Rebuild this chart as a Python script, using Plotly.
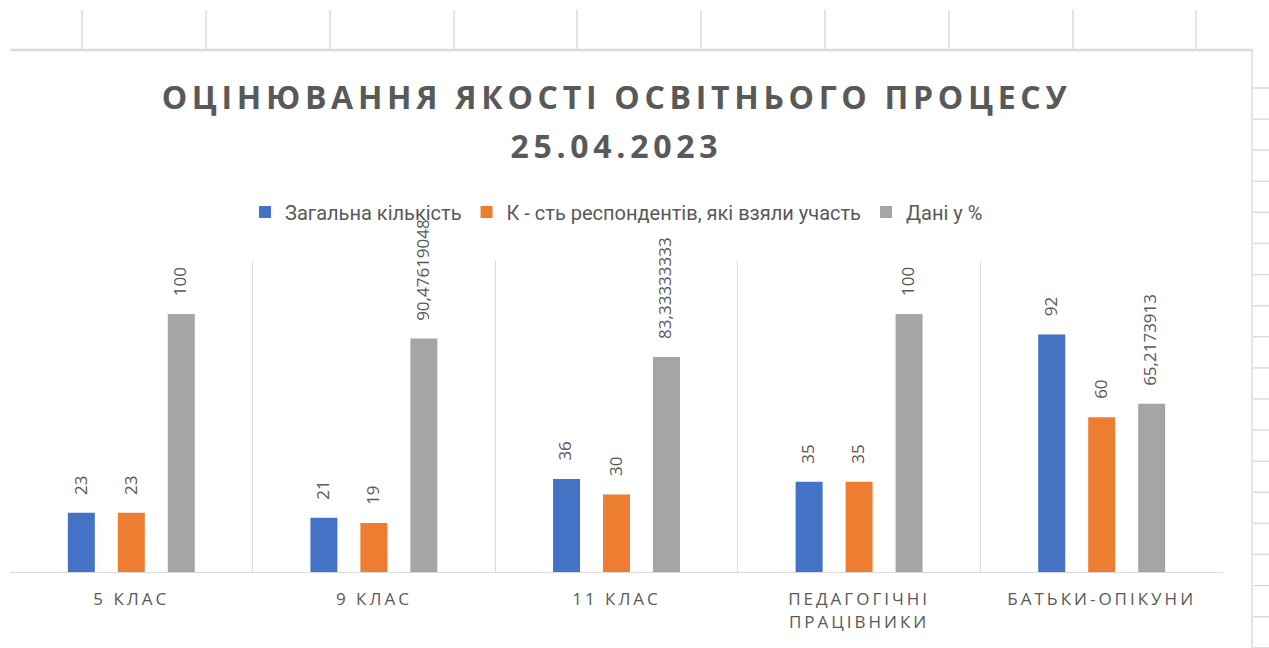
import plotly.graph_objects as go

# ---------------- data ----------------
categories = ["5 КЛАС", "9 КЛАС", "11 КЛАС", "ПЕДАГОГІЧНІ<br>ПРАЦІВНИКИ", "БАТЬКИ-ОПІКУНИ"]
series_names = ["Загальна кількість", "К - сть респондентів, які взяли участь", "Дані у %"]
total_count = [23, 21, 36, 35, 92]
respondents = [23, 19, 30, 35, 60]
percent = [100, 90.47619048, 83.33333333, 100, 65.2173913]
title_line = "ОЦІНЮВАННЯ ЯКОСТІ ОСВІТНЬОГО ПРОЦЕСУ"
title_date = "25.04.2023"

# ---------------- style / layout ----------------
colors = ["#4472C4", "#ED7D31", "#A5A5A5"]
TXT = "#595959"
GRID = "#d9d9d9"
SHEET = "#dcdcdc"
W, H = 1269, 648
ML, MR, MT, MB = 10, 46, 261, 76
PW, PH = W - ML - MR, H - MT - MB
BARGAP, GROUPGAP = 0.382, 0.46
Y_MAX = 120.5


def fmt(v):
    return f"{v:.10g}".replace(".", ",")


series = [total_count, respondents, percent]

fig = go.Figure()
for name, vals, col in zip(series_names, series, colors):
    fig.add_trace(go.Bar(
        x=categories, y=vals, name=name,
        marker=dict(color=col, line=dict(width=0)),
        hoverinfo="skip",
    ))


def px2x(px):
    return (px - ML) / PW


def py2y(py):
    return (H - MB - py) / PH


title_font = dict(family="Open Sans, Arial", size=32, color=TXT, weight="bold")

# second title line (date)
annotations = [dict(
    x=0.5, y=py2y(145), xref="paper", yref="paper", text=title_date,
    showarrow=False, xanchor="center", yanchor="middle", font=title_font,
)]

# data labels (rotated) placed above each bar
slot_px = (1 - BARGAP) * PW / len(categories) / len(series)
for j, vals in enumerate(series):
    for i, v in enumerate(vals):
        annotations.append(dict(
            x=i, y=v, xref="x", yref="y", text=fmt(v), showarrow=False,
            textangle=-90, xanchor="center", yanchor="bottom",
            xshift=(j - 1) * slot_px - 1.5, yshift=16,
            font=dict(family="Open Sans, Arial", size=17, color=TXT),
        ))

# spreadsheet background lines (outside the chart area)
shapes = []
for cx in [82, 206, 330, 454, 577, 701, 825, 949, 1073, 1196]:
    shapes.append(dict(type="line", xref="paper", yref="paper",
                       x0=px2x(cx), x1=px2x(cx), y0=py2y(10), y1=py2y(50),
                       line=dict(color=SHEET, width=1.5)))
ry = 88.0
while ry < H:
    shapes.append(dict(type="line", xref="paper", yref="paper",
                       x0=px2x(1253), x1=px2x(W + 5), y0=py2y(ry), y1=py2y(ry),
                       line=dict(color=SHEET, width=1.5)))
    ry += 31.1
# chart-area border (top and right)
shapes.append(dict(type="line", xref="paper", yref="paper",
                   x0=px2x(10), x1=px2x(1253), y0=py2y(50), y1=py2y(50),
                   line=dict(color=SHEET, width=2.5)))
shapes.append(dict(type="line", xref="paper", yref="paper",
                   x0=px2x(1252), x1=px2x(1252), y0=py2y(50), y1=py2y(H + 5),
                   line=dict(color=SHEET, width=1.5)))

fig.update_layout(
    width=W, height=H,
    margin=dict(l=ML, r=MR, t=MT, b=MB, pad=0),
    paper_bgcolor="white", plot_bgcolor="white",
    barmode="group", bargap=BARGAP, bargroupgap=GROUPGAP,
    title=dict(text=title_line, x=0.5, xref="paper", xanchor="center",
               y=1 - 98 / H, yref="container", yanchor="middle",
               font=title_font),
    legend=dict(orientation="h", x=0.5, xanchor="center", y=1 + (MT - 212) / PH,
                yanchor="middle", font=dict(family="Roboto, Arial", size=20, color=TXT),
                itemwidth=30, itemclick=False, itemdoubleclick=False,
                traceorder="normal"),
    xaxis=dict(type="category", tickson="boundaries", showgrid=True, gridcolor=GRID,
               gridwidth=1, showline=True, linecolor=GRID, linewidth=1,
               ticks="", ticklabelstandoff=12, zeroline=False,
               tickfont=dict(family="Open Sans, Arial", size=17, color=TXT),
               fixedrange=True),
    yaxis=dict(range=[0, Y_MAX], visible=False, showgrid=False, zeroline=False,
               fixedrange=True),
    annotations=annotations,
    shapes=shapes,
    showlegend=True,
)

post = """
document.body.style.margin='0';
document.querySelectorAll('.gtitle').forEach(function(e){e.style.letterSpacing='4.7px';});
document.querySelectorAll('.annotation-text').forEach(function(e){
  if(e.textContent.indexOf('.')>=0){e.style.letterSpacing='4.7px';}
});
document.querySelectorAll('.xtick text').forEach(function(e){e.style.letterSpacing='3px';});
"""

fig.write_html("out.html", post_script=post, config={"displayModeBar": False})
